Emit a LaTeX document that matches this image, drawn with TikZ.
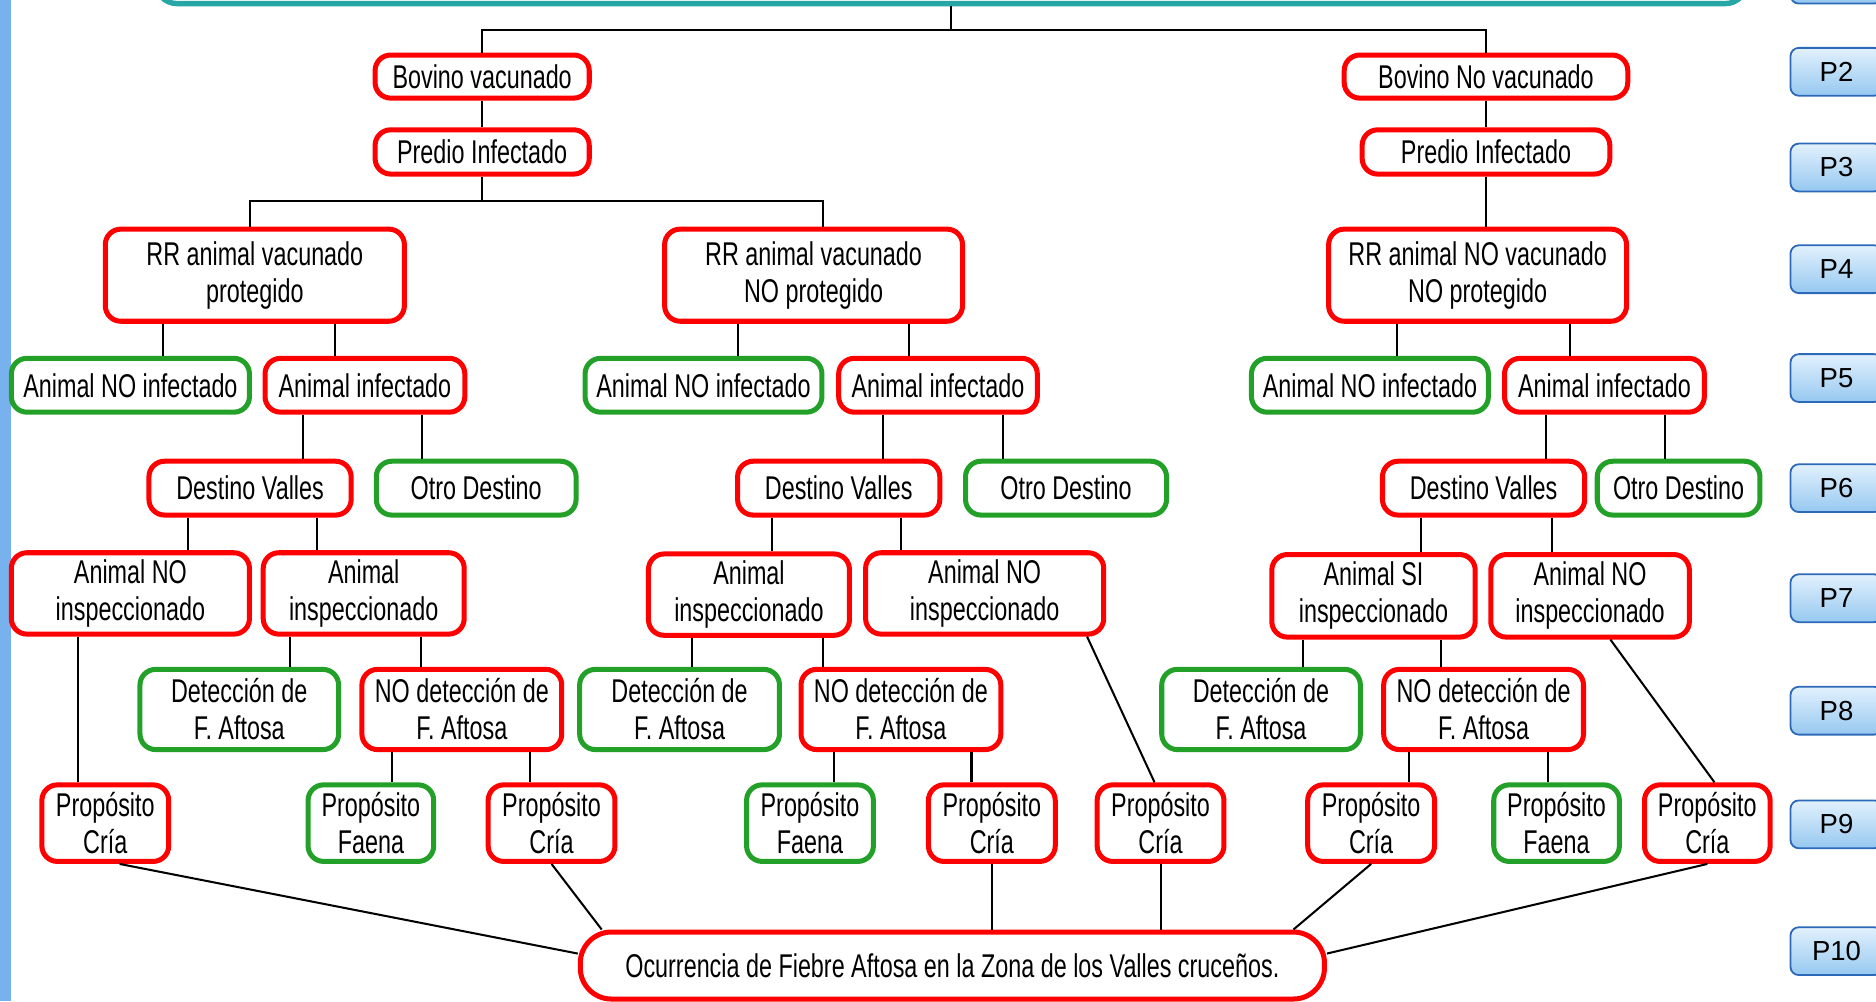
\documentclass[tikz,border=0pt]{standalone}
\usepackage{fontspec}
\setmainfont{Liberation Sans}
\newfontfamily\narrowfont{Liberation Sans}[FakeStretch=0.71]

\definecolor{boxred}{RGB}{255,0,0}
\definecolor{boxgreen}{RGB}{34,160,40}
\definecolor{goalteal}{RGB}{38,166,164}
\definecolor{ptop}{RGB}{226,241,253}
\definecolor{pbottom}{RGB}{150,200,240}
\definecolor{pedge}{RGB}{45,105,185}
\definecolor{barblue}{RGB}{120,178,238}

\tikzset{
  rbox/.style={draw=boxred,line width=4.2pt,rounded corners=13pt,fill=white,inner sep=0pt,
    align=center,font=\narrowfont\fontsize{27.5}{31}\selectfont},
  gbox/.style={rbox,draw=boxgreen},
  wh/.style 2 args={minimum width=#1pt,minimum height=#2pt},
  pbox/.style={draw=pedge,line width=1.5pt,rounded corners=7pt,top color=ptop,bottom color=pbottom,
    minimum width=77pt,minimum height=40pt,font=\fontsize{23}{26}\selectfont},
  link/.style={line width=1.7pt,black}
}

\begin{document}
\begin{tikzpicture}[x=1pt,y=-1pt]
	\useasboundingbox (0,0) rectangle (1568,837);
	\clip (0,0) rectangle (1568,837);
	\fill[barblue] (0,0) rectangle (9,837);

	% goal box (cut at the top) and level buttons
	\node[draw=goalteal,line width=4.5pt,rounded corners=18pt,fill=white,wh={1330}{80}] (goal) at (795,-37) {};
	\node[pbox] (p1) at (1535,-17) {};
	\foreach \n/\y in {2/60,3/140,4/225,5/316,6/408,7/500,8/594,9/689,10/795}{
		\node[pbox] (p\n) at (1535,\y) {P\n};
	}

	% vaccination and farm
	\node[rbox,wh={179}{36}] (bv) at (403,64) {Bovino vacunado};
	\node[rbox,wh={237}{36}] (bnv) at (1242,64) {Bovino No vacunado};
	\node[rbox,wh={179}{37}] (pi1) at (403,127) {Predio Infectado};
	\node[rbox,wh={207}{37}] (pi2) at (1242,127) {Predio Infectado};

	\node[rbox,wh={250}{77}] (rr1) at (213,230) {RR animal vacunado\\protegido};
	\node[rbox,wh={249}{77}] (rr2) at (680,230) {RR animal vacunado\\NO protegido};
	\node[rbox,wh={249}{77}] (rr3) at (1235,230) {RR animal NO vacunado\\NO protegido};

	% infection
	\node[gbox,wh={199}{45}] (ni1) at (109,322) {Animal NO infectado};
	\node[rbox,wh={167}{45}] (ai1) at (305,322) {Animal infectado};
	\node[gbox,wh={198}{45}] (ni2) at (588,322) {Animal NO infectado};
	\node[rbox,wh={166}{45}] (ai2) at (784,322) {Animal infectado};
	\node[gbox,wh={198}{45}] (ni3) at (1145,322) {Animal NO infectado};
	\node[rbox,wh={167}{45}] (ai3) at (1341,322) {Animal infectado};

	% destination
	\node[rbox,wh={169}{45}] (dv1) at (209,408) {Destino Valles};
	\node[gbox,wh={167}{45}] (od1) at (398,408) {Otro Destino};
	\node[rbox,wh={169}{45}] (dv2) at (701,408) {Destino Valles};
	\node[gbox,wh={168}{45}] (od2) at (891,408) {Otro Destino};
	\node[rbox,wh={169}{45}] (dv3) at (1240,408) {Destino Valles};
	\node[gbox,wh={136}{45}] (od3) at (1403,408) {Otro Destino};

	% inspection
	\node[rbox,wh={199}{68}] (an1) at (109,496) {Animal NO\\inspeccionado};
	\node[rbox,wh={168}{68}] (in1) at (304,496) {Animal\\inspeccionado};
	\node[rbox,wh={168}{68}] (in2) at (626,497) {Animal\\inspeccionado};
	\node[rbox,wh={199}{68}] (an2) at (823,496) {Animal NO\\inspeccionado};
	\node[rbox,wh={170}{69}] (si3) at (1148,498) {Animal SI\\inspeccionado};
	\node[rbox,wh={166}{69}] (an3) at (1329,498) {Animal NO\\inspeccionado};

	% detection
	\node[gbox,wh={166}{67}] (de1) at (200,593) {Detección de\\F. Aftosa};
	\node[rbox,wh={167}{67}] (nd1) at (386,593) {NO detección de\\F. Aftosa};
	\node[gbox,wh={167}{67}] (de2) at (568,593) {Detección de\\F. Aftosa};
	\node[rbox,wh={167}{67}] (nd2) at (753,593) {NO detección de\\F. Aftosa};
	\node[gbox,wh={166}{67}] (de3) at (1054,593) {Detección de\\F. Aftosa};
	\node[rbox,wh={167}{67}] (nd3) at (1240,593) {NO detección de\\F. Aftosa};

	% purpose
	\node[rbox,wh={106}{64}] (c1) at (88,688) {Propósito\\Cría};
	\node[gbox,wh={105}{64}] (f1) at (310,688) {Propósito\\Faena};
	\node[rbox,wh={106}{64}] (c3) at (461,688) {Propósito\\Cría};
	\node[gbox,wh={106}{64}] (f2) at (677,688) {Propósito\\Faena};
	\node[rbox,wh={106}{64}] (c5) at (829,688) {Propósito\\Cría};
	\node[rbox,wh={106}{64}] (c6) at (970,688) {Propósito\\Cría};
	\node[rbox,wh={106}{64}] (c7) at (1146,688) {Propósito\\Cría};
	\node[gbox,wh={105}{64}] (f3) at (1301,688) {Propósito\\Faena};
	\node[rbox,wh={105}{64}] (c9) at (1427,688) {Propósito\\Cría};

	\node[rbox,rounded corners=26pt,wh={622}{56}] (occ) at (796,807) {Ocurrencia de Fiebre Aftosa en la Zona de los Valles cruceños.};

	% connectors
	\draw[link] (goal.south) -- ++(0,20) -| (bv.north);
	\draw[link] (goal.south) ++(0,20) -| (bnv.north);
	\draw[link] (bv) -- (pi1);
	\draw[link] (bnv) -- (pi2);
	\draw[link] (pi1.south) -- ++(0,20) -| (209,0 |- rr1.north);
	\draw[link] (pi1.south) ++(0,20) -| (688,0 |- rr2.north);
	\draw[link] (pi2) -- (pi2 |- rr3.north);
	\foreach \x/\a/\b in {136/rr1/ni1,280/rr1/ai1,617/rr2/ni2,760/rr2/ai2,1168/rr3/ni3,1312/rr3/ai3,
		253/ai1/dv1,353/ai1/od1,738/ai2/dv2,838/ai2/od2,1292/ai3/dv3,1392/ai3/od3,
		157/dv1/an1,265/dv1/in1,645/dv2/in2,753/dv2/an2,1188/dv3/si3,1297/dv3/an3,
		65/an1/c1,242/in1/de1,352/in1/nd1,578/in2/de2,688/in2/nd2,1089/si3/de3,1204/si3/nd3,
		328/nd1/f1,443/nd1/c3,697/nd2/f2,812/nd2/c5,1178/nd3/c7,1294/nd3/f3}{
		\draw[link] (\x,0 |- \a.south) -- (\x,0 |- \b.north);
	}
	\draw[link] ([xshift=-16pt]an2.south east) -- ([xshift=-5pt]c6.north);
	\draw[link] ([xshift=17pt]an3.south) -- ([xshift=6pt]c9.north);

	\draw[link] ([xshift=12pt]c1.south) -- ([yshift=10pt]occ.west);
	\draw[link] (c3.south) -- ([xshift=20pt]occ.north west);
	\draw[link] (c5.south) -- (c5.south |- occ.north);
	\draw[link] (c6.south) -- (c6.south |- occ.north);
	\draw[link] (c7.south) -- ([xshift=-28pt]occ.north east);
	\draw[link] (c9.south) -- ([yshift=10pt]occ.east);
\end{tikzpicture}
\end{document}
